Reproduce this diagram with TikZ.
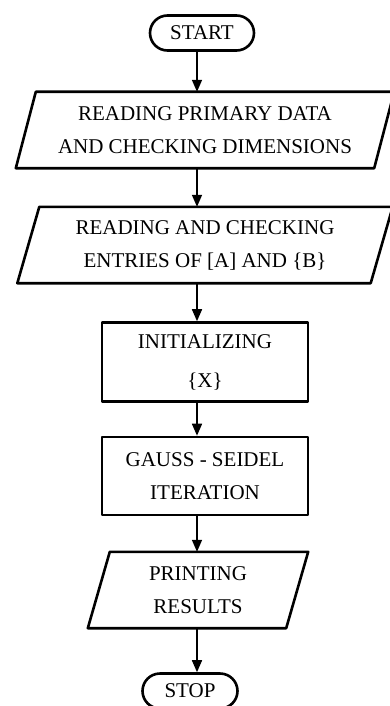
\documentclass[tikz,border=0pt]{standalone}
\usepackage{fontspec}
\setmainfont{Liberation Serif}
\usetikzlibrary{arrows.meta,shapes.misc}

\newcommand{\ioframe}[2]{%
  \draw[frame] ([xshift=#2]#1.north west) -- ([xshift=#2]#1.north east)
    -- ([xshift=-#2]#1.south east) -- ([xshift=-#2]#1.south west) -- cycle;}

\begin{document}
\begin{tikzpicture}[x=1pt, y=-1pt,
  frame/.style = {line width=2.6pt, line join=round},
  txt/.style = {align=center, font=\fontsize{21}{33}\selectfont, inner sep=0pt},
  term/.style = {txt, frame, draw, rounded rectangle, minimum width=104pt, minimum height=35pt},
  proc/.style = {txt, frame, draw, rectangle, minimum width=206pt, minimum height=79pt},
  io/.style = {txt, rectangle, minimum height=76pt},
  flow/.style = {line width=1.6pt, -{Triangle[length=12pt,width=10pt]}}]
\useasboundingbox (0,0) rectangle (390,706);
\coordinate (ax) at (197,0);
\node[term] (start) at (202,33) {START};
\node[io, minimum width=358pt] (rdata) at (205,130) {READING PRIMARY DATA\\AND CHECKING DIMENSIONS};
\node[io, minimum width=353pt] (rcheck) at (205,245) {READING AND CHECKING\\ENTRIES OF [A] AND \{B\}};
\node[proc] (init) at (205,362) {INITIALIZING\\[6pt]\{X\}};
\node[proc, minimum height=78pt] (gs) at (205,476) {GAUSS - SEIDEL\\ITERATION};
\node[io, minimum width=198pt] (print) at (198,590) {PRINTING\\RESULTS};
\node[term, minimum width=95pt] (stop) at (190,691) {STOP};
\ioframe{rdata}{10pt}
\ioframe{rcheck}{11pt}
\ioframe{print}{11pt}
\path[flow]
(start.south -| ax) edge (rdata.north -| ax)
(rdata.south -| ax) edge (rcheck.north -| ax)
(rcheck.south -| ax) edge (init.north -| ax)
(init.south -| ax) edge (gs.north -| ax)
(gs.south -| ax) edge (print.north -| ax)
(print.south -| ax) edge (stop.north -| ax);
\end{tikzpicture}
\end{document}
